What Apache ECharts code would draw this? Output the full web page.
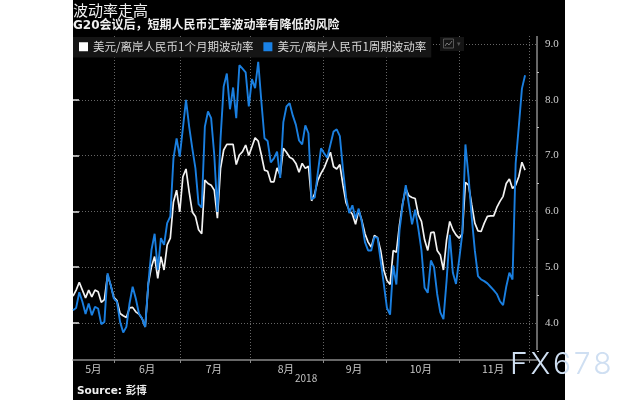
<!DOCTYPE html>
<html>
<head>
<meta charset="utf-8">
<script src="https://cdn.jsdelivr.net/npm/echarts@6/dist/echarts.min.js"></script>
<style>
html, body { margin: 0; padding: 0; background: #fff; }
#container { width: 640px; height: 400px; }
</style>
</head>
<body>
<div id="container"></div>
<script>
var CJK = '"Noto Sans CJK SC", sans-serif';
var BOLD = '"DejaVu Sans", "Noto Sans CJK SC", sans-serif';

var seriesNames = ['美元/离岸人民币1个月期波动率', '美元/离岸人民币1周期波动率'];

// 1个月期，按交易日读图
var oneMonth = [
    4.48, 4.59, 4.73, 4.59, 4.45, 4.59, 4.47, 4.59, 4.56, 4.37, 4.42, 4.86, 4.68, 4.46, 4.40, 4.17,
    4.13, 4.10, 4.27, 4.28, 4.20, 4.16, 4.08, 3.93, 4.71, 5.01, 5.19, 4.80, 5.19, 4.95, 5.40, 5.52,
    6.17, 6.38, 5.99, 6.62, 6.76, 6.35, 5.99, 5.91, 5.67, 5.60, 6.56, 6.50, 6.47, 6.38, 5.88, 6.77,
    7.10, 7.20, 7.20, 7.20, 6.84, 7.01, 7.07, 7.19, 7.00, 7.16, 7.32, 7.26, 7.01, 6.74, 6.72, 6.53,
    6.53, 6.78, 6.65, 7.13, 7.06, 6.97, 6.94, 6.86, 6.70, 6.86, 6.77, 6.81, 6.19, 6.32, 6.56, 6.68,
    6.78, 6.92, 7.06, 6.80, 6.76, 6.84, 6.47, 6.15, 6.02, 5.95, 5.77, 6.02, 5.84, 5.60, 5.45, 5.36,
    5.57, 5.53, 5.30, 4.95, 4.76, 4.69, 5.30, 5.27, 5.76, 6.14, 6.41, 6.28, 6.25, 6.23, 5.94, 5.82,
    5.49, 5.30, 5.62, 5.63, 5.30, 5.22, 4.95, 5.49, 5.82, 5.67, 5.58, 5.52, 5.60, 6.52, 6.47, 6.12,
    5.79, 5.65, 5.64, 5.79, 5.91, 5.92, 5.92, 6.07, 6.18, 6.27, 6.50, 6.58, 6.41, 6.47, 6.62, 6.88, 6.74
];

// 1周期
var oneWeek = [
    4.23, 4.27, 4.55, 4.38, 4.16, 4.35, 4.14, 4.29, 4.26, 3.98, 4.02, 4.89, 4.68, 4.44, 4.38, 4.02,
    3.83, 3.93, 4.35, 4.65, 4.44, 4.17, 4.08, 3.93, 4.71, 5.31, 5.60, 4.95, 5.52, 5.40, 5.79, 5.91,
    6.95, 7.31, 6.98, 7.49, 8.00, 7.52, 7.13, 6.77, 6.13, 6.07, 7.52, 7.79, 7.67, 7.01, 5.99, 7.31,
    8.24, 8.47, 7.83, 8.22, 7.67, 8.62, 8.56, 8.49, 7.88, 8.37, 8.21, 8.68, 7.97, 7.31, 7.26, 6.88,
    6.95, 7.07, 6.60, 7.60, 7.88, 7.94, 7.72, 7.55, 7.27, 7.20, 7.54, 7.40, 6.22, 6.25, 6.70, 7.13,
    7.04, 6.96, 7.20, 7.43, 7.47, 7.35, 6.75, 6.25, 5.97, 6.11, 5.87, 6.05, 5.81, 5.45, 5.30, 5.30,
    5.54, 5.53, 5.12, 4.70, 4.27, 4.15, 5.03, 4.69, 5.66, 6.12, 6.47, 6.12, 5.77, 6.03, 5.69, 5.30,
    4.63, 4.54, 5.12, 5.00, 4.52, 4.19, 4.07, 4.76, 5.58, 4.90, 4.70, 5.13, 5.60, 7.20, 6.62, 5.90,
    5.30, 4.84, 4.78, 4.75, 4.71, 4.65, 4.59, 4.52, 4.39, 4.32, 4.65, 4.90, 4.78, 6.86, 7.52, 8.20, 8.44
];

var monthNames = ['5月', '6月', '7月', '8月', '9月', '10月', '11月'];
var monthCenters = [6.5, 23.6, 44.9, 67.8, 89.5, 110.8, 133.8];  // 交易日序号
var monthEdges = [13.05, 34.05, 56.35, 79.6, 99.7, 122.9, 145.2];
var yLabels = [4, 5, 6, 7, 8, 9];
var yHalfTicks = [3.5, 4.5, 5.5, 6.5, 7.5, 8.5];

function toPoints(values) {
    return values.map(function(v, i) { return [i, v]; });
}

var myChart = echarts.init(document.getElementById('container'));

var baseOption = {
    backgroundColor: '#fff',
    animation: false,
    textStyle: { fontFamily: CJK },
    grid: { left: 73, right: 103, top: 36, bottom: 40 },
    legend: {
        left: 73,
        top: 37,
        padding: [4, 5, 5, 6],
        itemWidth: 9,
        itemHeight: 9,
        itemGap: 10,
        icon: 'rect',
        backgroundColor: '#151515',
        textStyle: { color: '#d8d8d8', fontSize: 11.5, fontFamily: CJK },
        data: seriesNames
    },
    xAxis: {
        type: 'value',
        min: 0,
        max: 147.8,
        axisLine: { show: true, onZero: false, lineStyle: { color: '#8a8a8a', width: 1.5 } },
        axisTick: { show: true, length: 3, customValues: monthEdges, lineStyle: { color: '#8a8a8a' } },
        axisLabel: {
            customValues: monthCenters,
            hideOverlap: false,
            color: '#c8c8c8',
            fontSize: 10.5,
            margin: 4,
            formatter: function(value) {
                return monthNames[monthCenters.indexOf(value)];
            }
        },
        splitLine: { show: true, lineStyle: { color: '#666', type: [1, 2] } }
    },
    yAxis: [{
        type: 'value',
        position: 'right',
        min: 3.337,
        max: 9.143,
        axisLine: { show: false },
        axisTick: { show: true, length: 6, customValues: yLabels, lineStyle: { color: '#e0e0e0', width: 1.5 } },
        axisLabel: {
            customValues: yLabels,
            color: '#d0d0d0',
            fontSize: 11,
            fontFamily: '"Liberation Serif", serif',
            margin: 8,
            formatter: function(value) { return value.toFixed(1); }
        },
        splitLine: { show: true, lineStyle: { color: '#666', type: [1, 2] } }
    }, {
        type: 'value',
        position: 'right',
        min: 3.337,
        max: 9.143,
        axisLine: { show: false },
        axisTick: { show: true, length: 2, customValues: yHalfTicks, lineStyle: { color: '#bbb' } },
        axisLabel: { show: false },
        splitLine: { show: false }
    }],
    series: [{
        name: seriesNames[0],
        type: 'line',
        data: toPoints(oneMonth),
        showSymbol: false,
        itemStyle: { color: '#ffffff' },
        lineStyle: { color: '#f2f2f2', width: 1.7 }
    }, {
        name: seriesNames[1],
        type: 'line',
        data: toPoints(oneWeek),
        showSymbol: false,
        itemStyle: { color: '#1a82e6' },
        lineStyle: { color: '#1a7fe0', width: 1.9 }
    }],
    graphic: [
        { type: 'rect', z: -10, shape: { x: 73, y: 0, width: 492, height: 400 }, style: { fill: '#000' } },
        { type: 'line', z: 5, shape: { x1: 537, y1: 36, x2: 537, y2: 350 }, style: { stroke: '#cfcfcf', lineWidth: 1 } },
        { type: 'text', z: 5, x: 73, y: 3, style: { text: '波动率走高', fill: '#f0f0f0', font: '15px ' + CJK } },
        { type: 'text', z: 5, x: 73, y: 20, style: { text: 'G20会议后，短期人民币汇率波动率有降低的风险', fill: '#f0f0f0', font: 'bold 12px ' + BOLD } },
        { type: 'text', z: 5, x: 295, y: 373, style: { text: '2018', fill: '#c0c0c0', font: '10px ' + CJK } },
        { type: 'text', z: 5, x: 77, y: 386, style: { text: 'Source: 彭博', fill: '#eeeeee', font: 'bold 10.5px ' + BOLD } },
        // 图表切换小图标
        { type: 'rect', z: 5, shape: { x: 440, y: 37, width: 24, height: 14 }, style: { fill: '#141414' } },
        { type: 'rect', z: 6, shape: { x: 443.5, y: 39, width: 10, height: 9 }, style: { fill: 'none', stroke: '#555', lineWidth: 1 } },
        { type: 'polyline', z: 6, shape: { points: [[445, 46], [447, 43], [449, 45], [452, 41]] }, style: { fill: 'none', stroke: '#777', lineWidth: 1 } },
        { type: 'text', z: 6, x: 457, y: 40, style: { text: '▾', fill: '#555', font: '7px ' + CJK } },
        // 水印
        {
            type: 'text', z: 20, x: 510, y: 350,
            style: {
                text: 'F\u200AX\u200A6\u200A7\u200A8',
                fill: '#cfdff2',
                font: '300 30px Inter, "Liberation Sans", sans-serif',
                textShadowColor: 'rgba(140,100,70,0.8)',
                textShadowBlur: 0,
                textShadowOffsetX: 1,
                textShadowOffsetY: 1
            }
        }
    ]
};

myChart.setOption(baseOption);
</script>
</body>
</html>
